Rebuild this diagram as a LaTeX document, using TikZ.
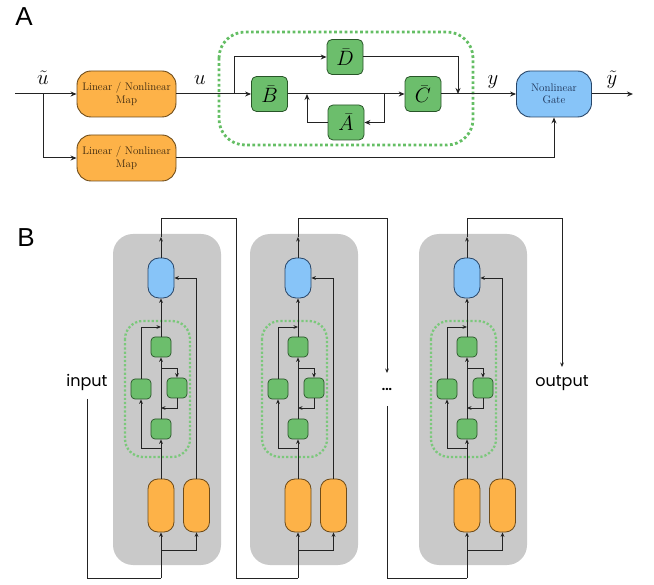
\documentclass[tikz,border=0pt]{standalone}
\usepackage{fontspec}
\newfontfamily\labfont{Liberation Sans}
\newfontfamily\popfont{Poppins}
\usetikzlibrary{arrows.meta}
\definecolor{orf}{RGB}{253,178,72}
\definecolor{ord}{RGB}{110,75,25}
\definecolor{grf}{RGB}{108,190,108}
\definecolor{grd}{RGB}{40,85,40}
\definecolor{blf}{RGB}{135,196,248}
\definecolor{bld}{RGB}{40,70,105}
\definecolor{blt}{RGB}{30,50,85}
\definecolor{ort}{RGB}{60,40,15}
\definecolor{dotg}{RGB}{100,190,100}
\definecolor{boxg}{RGB}{201,201,201}
\definecolor{ln}{RGB}{35,35,35}
\tikzset{
  mapbox/.style={draw=ord, fill=orf, text=ort, line width=0.9pt, rounded corners=14pt, minimum width=99pt, minimum height=46pt, inner sep=0pt, align=center, font=\fontsize{11}{12.5}\selectfont},
  matbox/.style={draw=grd, fill=grf, line width=0.8pt, rounded corners=5pt, minimum width=36pt, minimum height=35pt, inner sep=0pt, font=\fontsize{20}{24}\selectfont},
  gatebox/.style={draw=bld, fill=blf, text=blt, line width=0.9pt, rounded corners=14pt, minimum width=75pt, minimum height=46pt, inner sep=0pt, align=center, font=\fontsize{11}{12.5}\selectfont},
  mathlab/.style={anchor=base, inner sep=0pt, font=\fontsize{20}{24}\selectfont},
  connA/.style={draw=ln, line width=1pt, -{Stealth[length=6pt,width=5pt]}},
  dotA/.style={draw=dotg, line width=2.8pt, dash pattern=on 2.7pt off 2.5pt, rounded corners=26pt},
  gateB/.style={draw=bld, fill=blf, line width=0.8pt, rounded corners=11pt, minimum width=26pt, minimum height=40pt, inner sep=0pt},
  orB/.style={draw=ord, fill=orf, line width=0.8pt, rounded corners=10pt, minimum width=26pt, minimum height=53pt, inner sep=0pt},
  smB/.style={draw=grd, fill=grf, line width=0.7pt, rounded corners=4pt, minimum width=20pt, minimum height=20pt, inner sep=0pt},
  dotB/.style={draw=dotg!85!white, line width=2.3pt, dash pattern=on 2.2pt off 2pt, rounded corners=18pt},
  connB/.style={draw=ln, line width=0.9pt, -{Stealth[length=4.5pt,width=3.8pt]}},
  plainB/.style={draw=ln, line width=0.9pt},
  iolab/.style={inner sep=0pt, font=\popfont\fontsize{16}{19}\selectfont},
}
\begin{document}
\begin{tikzpicture}[x=1pt,y=-1pt]
\useasboundingbox (0,0) rectangle (654,585);
% ---------- Panel A ----------
\node[font=\labfont\fontsize{26}{30}\selectfont, inner sep=0pt] (labA) at (24,17) {A};
\draw[dotA] (219,32) rectangle (473,145);
\node[mapbox] (m1) at (126.5,94) {Linear / Nonlinear\\Map};
\node[mapbox] (m2) at (126.5,158) {Linear / Nonlinear\\Map};
\node[matbox] (B) at (269.5,94) {$\bar{B}$};
\node[matbox] (D) at (345,57) {$\bar{D}$};
\node[matbox] (C) at (423,94) {$\bar{C}$};
\node[matbox] (A) at (346,122.5) {$\bar{A}$};
\node[gatebox] (G) at (554,94) {Nonlinear\\Gate};
\coordinate (s) at (15,94);
\coordinate (sb) at (43,94);
\coordinate (ub) at (234,94);
\coordinate (dj) at (458,94);
\coordinate (cj) at (384,94);
\coordinate (aj) at (307,94);
\coordinate (e) at (633,94);
\draw[connA] (s) -- (m1);
\draw[connA] (sb) |- (m2);
\draw[connA] (m1) -- (B);
\draw[connA] (ub) |- (D);
\draw[connA] (D) -| (dj);
\draw[connA] (B) -- (C);
\draw[connA] (cj) |- (A);
\draw[connA] (A) -| (aj);
\draw[connA] (C) -- (G);
\draw[connA] (G) -- (e);
\draw[connA] (m2) -| (G);
\node[mathlab] (lu1) at (43,85) {$\tilde{u}$};
\node[mathlab] (lu2) at (200,85) {$u$};
\node[mathlab] (ly1) at (493,85) {$y$};
\node[mathlab] (ly2) at (612,85) {$\tilde{y}$};
% ---------- Panel B ----------
\node[font=\labfont\fontsize{26}{30}\selectfont, inner sep=0pt] (labB) at (26,238) {B};
\foreach \i/\dx in {1/0,2/137,3/306}{
\begin{scope}[xshift=\dx pt]
  \fill[boxg, rounded corners=20pt] (113,234) rectangle (221,565);
  \draw[dotB] (125,321) rectangle (190,457);
  \node[gateB] (g\i) at (161,278) {};
  \node[smB] (c\i) at (161,347) {};
  \node[smB] (d\i) at (141,389) {};
  \node[smB] (a\i) at (177,388) {};
  \node[smB] (b\i) at (161,429) {};
  \node[orB] (ol\i) at (161,505.5) {};
  \node[orB] (or\i) at (196.5,505.5) {};
  \coordinate (bs\i) at (161,448);
  \coordinate (jc\i) at (161,368);
  \coordinate (ja\i) at (161,408);
  \coordinate (jd\i) at (161,327);
  \coordinate (in\i) at (161,550);
  \coordinate (bot\i) at (161,578);
  \coordinate (up\i) at (161,237);
  \coordinate (top\i) at (161,218);
  \draw[connB] (ol\i) -- (b\i);
  \draw[connB] (bs\i) -| (d\i);
  \draw[connB] (b\i) -- (c\i);
  \draw[connB] (jc\i) -| (a\i);
  \draw[connB] (a\i) |- (ja\i);
  \draw[connB] (d\i) |- (jd\i);
  \draw[connB] (c\i) -- (g\i);
  \draw[connB] (or\i) |- (g\i);
  \draw[connB] (in\i) -| (or\i);
  \draw[connB] (bot\i) -- (ol\i);
  \draw[connB] (g\i) -- (up\i);
\end{scope}
}
\node[iolab] (inp) at (87,382) {input};
\coordinate (ins) at (87,399);
\draw[plainB] (ins) |- (bot1);
\coordinate (r1) at (236,578);
\draw[plainB] (up1) -- (top1) -| (r1) -- (bot2);
\coordinate (dotin) at (387,373);
\draw[connB] (up2) -- (top2) -| (dotin);
\node[inner sep=0pt, font=\popfont\bfseries\fontsize{12}{14}\selectfont] (dots) at (387,389) {...};
\coordinate (dotout) at (387,406);
\draw[plainB] (dotout) |- (bot3);
\coordinate (outa) at (562,367);
\draw[connB] (up3) -- (top3) -| (outa);
\node[iolab] (outp) at (562,383) {output};
\end{tikzpicture}
\end{document}
